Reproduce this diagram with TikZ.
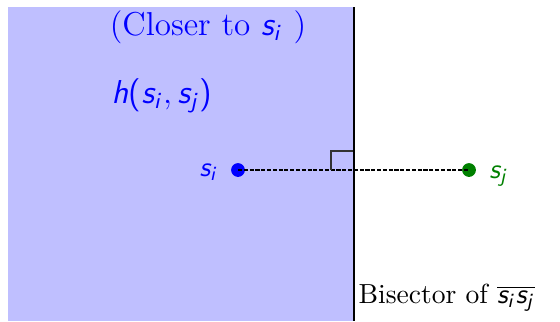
\documentclass[tikz,border=0pt]{standalone}
\DeclareMathAlphabet{\mathsfit}{OT1}{cmss}{m}{sl}
\newcommand\msv[1]{\mathsfit{#1}}
\newcommand\msi{\msv{s}_{\msv{i}}}
\newcommand\msj{\msv{s}_{\msv{j}}}
\newcommand\sfp[1]{\textsf{#1}}
\definecolor{regionblue}{RGB}{191,191,255}
\definecolor{sjgreen}{RGB}{0,128,0}
\tikzset{
  px/.style={x=0.3625pt,y=-0.3625pt},
  site/.style={circle,inner sep=0pt,minimum size=5pt},
  sitelabel/.style={inner sep=0pt},
}
\begin{document}
\begin{tikzpicture}[px]
\useasboundingbox (0,0) rectangle (560,321);
\fill[regionblue] (8,7) rectangle (354,321);
\coordinate (btop) at (354,7);
\coordinate (bbot) at (354,321);
\node[site,fill=blue] (si) at (238,170) {};
\node[site,fill=sjgreen] (sj) at (469,170) {};
\draw[thin,dash pattern=on 1.5pt off 0.6pt] (si.center) -- (sj.center);
\coordinate (foot) at (354,170);
\draw[thin,black!80] (foot) ++(-23,0) -- ++(0,-19) -- ++(23,0);
\draw[line width=1pt] (btop) -- (bbot);
\node[sitelabel,text=blue] (lsi) at (209,172) {$\msi$};
\node[sitelabel,text=sjgreen] (lsj) at (499,176) {$\msj$};
\node[text=blue,inner sep=0pt,font=\large] (closer) at (208,27) {(Closer to $\msi$\ )};
\node[text=blue,inner sep=0pt,font=\large] (h) at (162,96) {$\msv{h}\mathopen{\sfp{(}}\msi,\msj\mathclose{\sfp{)}}$};
\node[inner sep=0pt,anchor=west] (bis) at (358,298) {Bisector of $\overline{\msi\msj}$};
\end{tikzpicture}
\end{document}
